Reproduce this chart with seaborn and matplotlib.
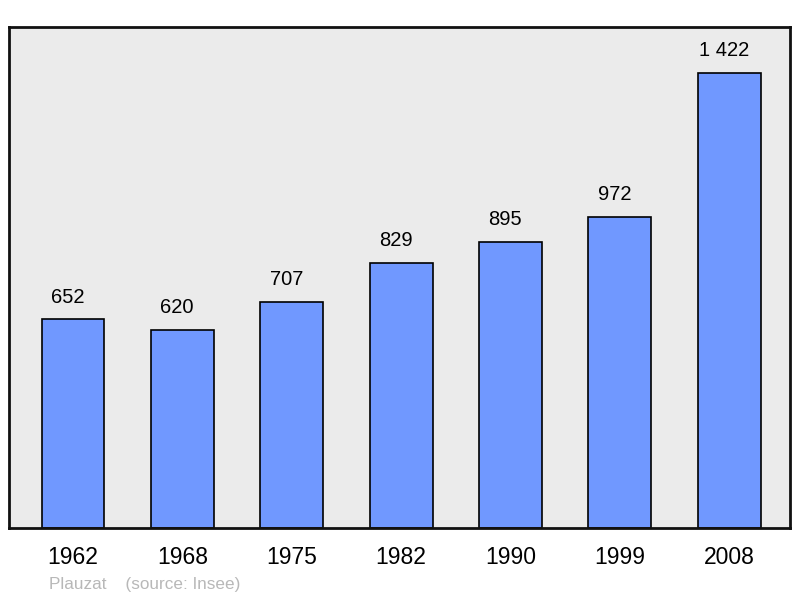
import matplotlib
matplotlib.use("Agg")
import matplotlib.pyplot as plt
import seaborn as sns
import pandas as pd

years = ["1962", "1968", "1975", "1982", "1990", "1999", "2008"]
population = [652, 620, 707, 829, 895, 972, 1422]
labels = ["652", "620", "707", "829", "895", "972", "1 422"]

sns.set_theme(style="white")
plt.rcParams['font.family'] = ['Liberation Sans', 'DejaVu Sans']

df = pd.DataFrame({"year": years, "pop": population})

fig = plt.figure(figsize=(8, 5.98), dpi=100)
ax = fig.add_axes([0.01125, 0.117, 0.97625, 0.8378])
ax.set_facecolor("#ebebeb")

sns.barplot(data=df, x="year", y="pop", order=years, color="#7098ff", saturation=1,
            edgecolor="black", linewidth=1.2, width=0.575, ax=ax)

ax.set_xlim(-0.585, 6.555)
ax.set_ylim(0, 1565)
ax.set_yticks([])
ax.set_xlabel("")
ax.set_ylabel("")
ax.tick_params(axis="x", length=0, pad=13, labelsize=16.5, colors="black")
for s in ax.spines.values():
    s.set_visible(True)
    s.set_linewidth(2)
    s.set_color("#111111")

for cont in ax.containers:
    anns = ax.bar_label(cont, labels=labels, padding=9, fontsize=14.5, color="black")
    for a in anns:
        a.xyann = (-3.8, a.xyann[1])

fig.text(49/800, 1 - 584/598, "Plauzat    (source: Insee)", fontsize=12.3, color="#b8b8b8",
         ha="left", va="center")

fig.savefig("out.png", dpi=100)
